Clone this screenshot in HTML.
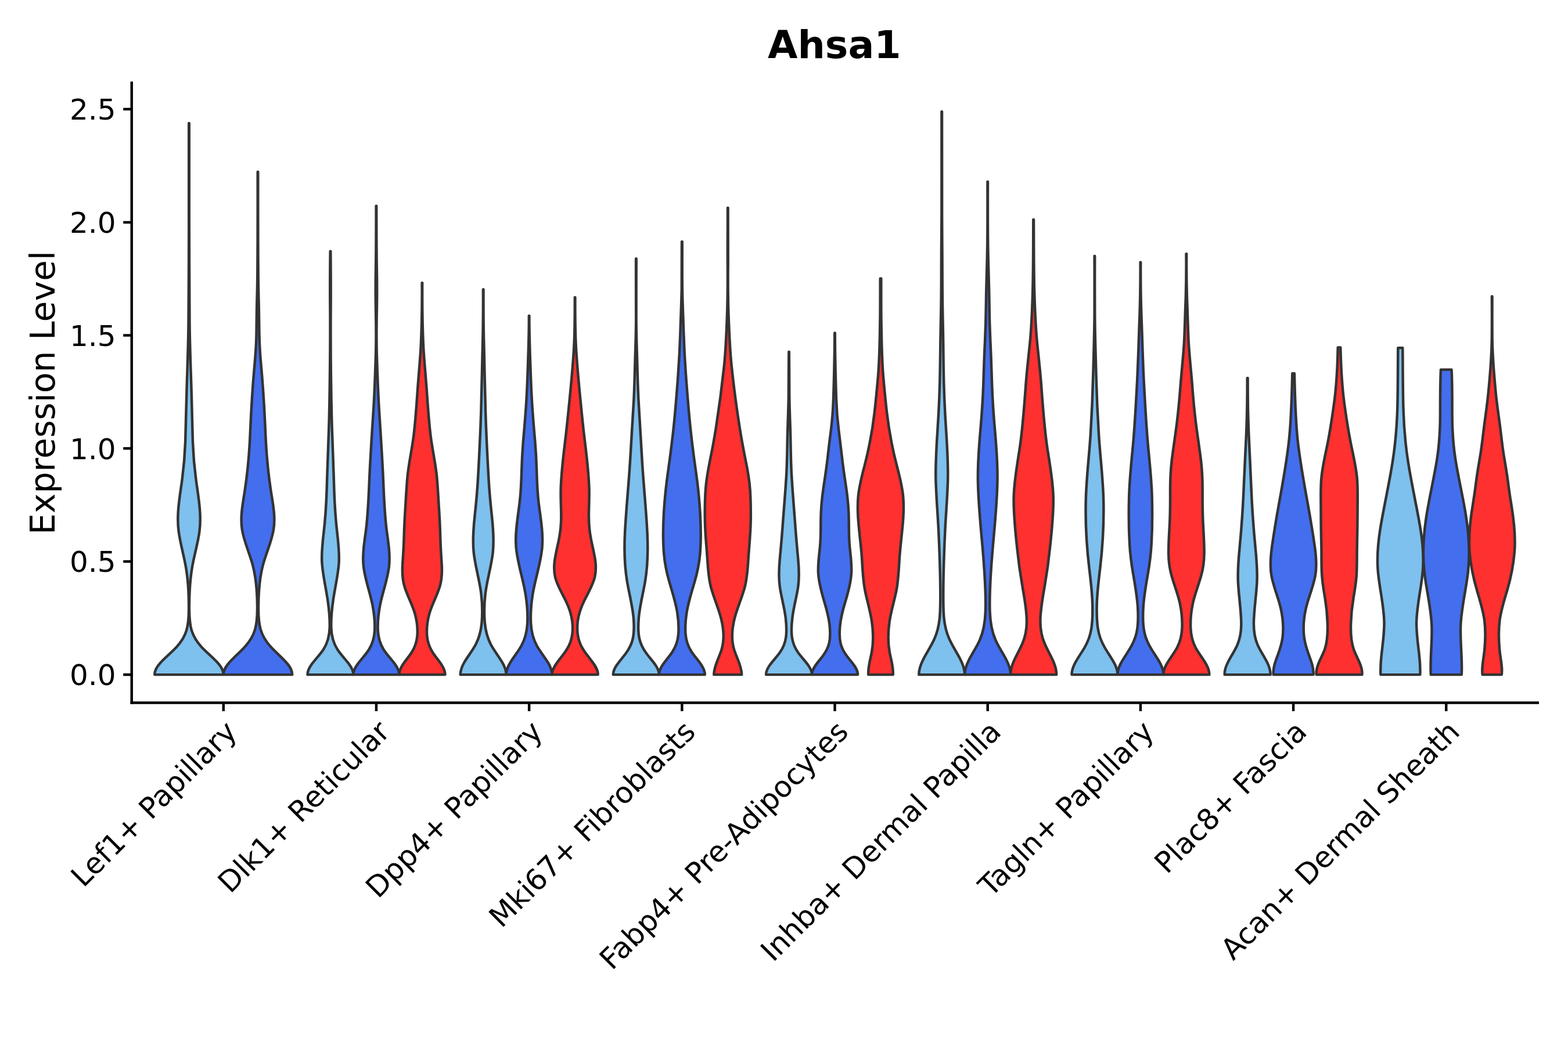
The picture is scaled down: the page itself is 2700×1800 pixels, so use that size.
<!DOCTYPE html>
<html lang="en">
<head>
<meta charset="utf-8">
<title>Ahsa1</title>
<style>
html,body{margin:0;padding:0;background:#fff;}
body{width:2700px;height:1800px;overflow:hidden;}
svg{display:block;}
text{font-family:"DejaVu Sans","Liberation Sans",sans-serif;fill:#000;}
.v{stroke:#333;stroke-width:4.45;stroke-linejoin:round;stroke-linecap:round;}
.ax{stroke:#000;stroke-width:4.45;fill:none;stroke-linecap:butt;}
.tl{font-size:50px;}
</style>
</head>
<body>
<svg xmlns="http://www.w3.org/2000/svg" width="2700" height="1800" viewBox="0 0 2700 1800">
<rect width="2700" height="1800" fill="#fff"/>
<text x="1436.8" y="100" text-anchor="middle" font-weight="bold" font-size="66.5px">Ahsa1</text>
<text transform="translate(94.25 676.5) rotate(-90)" text-anchor="middle" font-size="58.33px">Expression Level</text>
<g class="v">
<path fill="#7EC0EE" d="M325.8 212.2C325.8 252.2 325.8 292.2 325.8 332.2C325.8 372.2 325.7 412.2 326 452.2C326.3 487.5 326.2 522.9 326.5 558.2C326.9 598.2 328.6 638.2 329.8 678.2C330.6 704.9 331 731.5 331.9 758.2C332.6 780.9 334.5 803.5 337.5 826.2C341.5 855.5 347.2 884.9 343.6 914.2C341 935.5 334.2 956.9 330.7 978.2C326.9 1001.5 325.8 1024.9 325.9 1048.2C326 1060.9 326.2 1073.5 330 1086.2C332.9 1095.5 338.3 1104.9 346.8 1114.2C355.4 1123.5 367.2 1132.9 375.4 1142.2C381.3 1148.8 384.9 1155.5 384.7 1162.1L266.3 1162.1C266.1 1155.5 269.8 1148.8 275.7 1142.2C283.9 1132.9 295.7 1123.5 304.2 1114.2C312.8 1104.9 318.2 1095.5 321 1086.2C324.9 1073.5 325.1 1060.9 325.1 1048.2C325.2 1024.9 324.2 1001.5 320.3 978.2C316.8 956.9 310.1 935.5 307.5 914.2C303.8 884.9 309.6 855.5 313.6 826.2C316.6 803.5 318.5 780.9 319.2 758.2C320 731.5 320.5 704.9 321.3 678.2C322.4 638.2 324.1 598.2 324.5 558.2C324.9 522.9 324.8 487.5 325.1 452.2C325.3 412.2 325.2 372.2 325.2 332.2C325.2 292.2 325.2 252.2 325.2 212.2Z"/>
<path fill="#436EEE" d="M444.3 296C444.3 336 444.2 376 444.4 416C444.5 448.7 444.5 481.3 445.4 514C446 534.7 446.1 555.3 446.5 576C446.8 595.3 448.2 614.7 450 634C453.6 672.7 455.6 711.3 457.3 750C458.7 782 461.6 814 466.5 846C470 868 474.6 890 471.1 912C467.9 932.7 458 953.3 452.6 974C446.5 997.3 445.2 1020.7 445 1044C444.8 1057.3 444.9 1070.7 448.7 1084C451.5 1094 457.1 1104 466.1 1114C475.1 1124 487.5 1134 495.5 1144C500.3 1150 503.2 1156.1 503.2 1162.1L384.8 1162.1C384.7 1156.1 387.7 1150 392.5 1144C400.4 1134 412.9 1124 421.8 1114C430.8 1104 436.4 1094 439.2 1084C443 1070.7 443.1 1057.3 443 1044C442.8 1020.7 441.5 997.3 435.3 974C429.9 953.3 420 932.7 416.8 912C413.4 890 418 868 421.4 846C426.4 814 429.2 782 430.6 750C432.3 711.3 434.3 672.7 437.9 634C439.7 614.7 441.2 595.3 441.5 576C441.8 555.3 441.9 534.7 442.5 514C443.5 481.3 443.4 448.7 443.6 416C443.8 376 443.7 336 443.7 296Z"/>
<path fill="#7EC0EE" d="M569.3 432.7C569.6 464 569.8 495.4 569.6 526.7C569.3 566.7 569.4 606.7 569.9 646.7C570.4 681.4 570.7 716 572.2 750.7C573.6 782.7 574.4 814.7 575.5 846.7C576.3 869.4 577.7 892 580.3 914.7C582.4 933.4 584.8 952 583.5 970.7C582 992 576.5 1013.4 573.6 1034.7C571.4 1050 569.9 1065.4 570.3 1080.7C570.7 1093.4 572.8 1106 581.1 1118.7C586.3 1126.7 594 1134.7 600.1 1142.7C605.1 1149.2 608.5 1155.6 608.5 1162.1L529.5 1162.1C529.5 1155.6 532.9 1149.2 537.8 1142.7C543.9 1134.7 551.6 1126.7 556.9 1118.7C565.1 1106 567.3 1093.4 567.7 1080.7C568.1 1065.4 566.6 1050 564.4 1034.7C561.4 1013.4 556 992 554.5 970.7C553.1 952 555.5 933.4 557.7 914.7C560.3 892 561.7 869.4 562.5 846.7C563.6 814.7 564.4 782.7 565.8 750.7C567.2 716 567.6 681.4 568 646.7C568.5 606.7 568.7 566.7 568.4 526.7C568.1 495.4 568.3 464 568.7 432.7Z"/>
<path fill="#436EEE" d="M648.2 354.7C648.3 390 648.2 425.4 648.8 460.7C649.3 486 649.3 511.4 648.8 536.7C648.3 562 648.1 587.4 648.9 612.7C649.9 644.7 650.9 676.7 653 708.7C655.5 748.7 658.3 788.7 660 828.7C661.2 856.7 662.1 884.7 665.7 912.7C668.4 933.4 672.1 954 670 974.7C667.7 997.4 658.7 1020 654.4 1042.7C651.6 1057.4 650 1072 650.8 1086.7C651.4 1097.4 653.8 1108 660.5 1118.7C665.5 1126.7 673.1 1134.7 679.2 1142.7C684 1149.2 687.5 1155.6 687.4 1162.1L608.5 1162.1C608.4 1155.6 611.8 1149.2 616.7 1142.7C622.7 1134.7 630.3 1126.7 635.4 1118.7C642.1 1108 644.5 1097.4 645.1 1086.7C645.9 1072 644.3 1057.4 641.5 1042.7C637.2 1020 628.2 997.4 625.9 974.7C623.8 954 627.5 933.4 630.2 912.7C633.8 884.7 634.7 856.7 635.9 828.7C637.6 788.7 640.3 748.7 642.9 708.7C645 676.7 646 644.7 647 612.7C647.8 587.4 647.6 562 647.1 536.7C646.6 511.4 646.6 486 647.1 460.7C647.7 425.4 647.6 390 647.6 354.7Z"/>
<path fill="#FF3030" d="M727.2 487.2C727 524.5 727.2 561.9 729.2 599.2C730.6 623.9 733.1 648.5 734.9 673.2C736.7 699.2 738.3 725.2 741.6 751.2C744.5 774.5 750 797.9 752.2 821.2C754 839.9 754.8 858.5 756 877.2C757.2 895.2 757.9 913.2 758.4 931.2C758.8 944.5 759.7 957.9 760.6 971.2C761.4 983.9 761.2 996.5 757.6 1009.2C753.1 1025.2 743.8 1041.2 739.3 1057.2C735.8 1069.9 734.3 1082.5 735.3 1095.2C736.1 1104.5 738.8 1113.9 744.7 1123.2C752.2 1135.2 764.8 1147.2 766.2 1159.2C766.3 1160.2 766.4 1161.1 766.4 1162.1L687.4 1162.1C687.4 1161.1 687.4 1160.2 687.6 1159.2C689 1147.2 701.6 1135.2 709.1 1123.2C715 1113.9 717.7 1104.5 718.5 1095.2C719.5 1082.5 718 1069.9 714.5 1057.2C710 1041.2 700.7 1025.2 696.2 1009.2C692.6 996.5 692.4 983.9 693.2 971.2C694 957.9 695 944.5 695.4 931.2C695.9 913.2 696.6 895.2 697.8 877.2C699 858.5 699.8 839.9 701.6 821.2C703.8 797.9 709.3 774.5 712.2 751.2C715.5 725.2 717.1 699.2 718.9 673.2C720.6 648.5 723.2 623.9 724.5 599.2C726.5 561.9 726.8 524.5 726.6 487.2Z"/>
<path fill="#7EC0EE" d="M832.5 498.5C832.4 529.2 832.4 559.8 833.3 590.5C834.4 630.5 834.8 670.5 836.1 710.5C837.3 749.2 839.3 787.8 841.5 826.5C842.7 847.8 844.8 869.2 847.1 890.5C849.3 911.2 850.9 931.8 848.6 952.5C845.9 975.8 838.6 999.2 835.8 1022.5C833.8 1039.2 833.4 1055.8 834.8 1072.5C835.9 1085.2 838.7 1097.8 845.4 1110.5C850.8 1120.5 858.7 1130.5 864.6 1140.5C868.9 1147.7 871.7 1154.9 871.7 1162.1L792.7 1162.1C792.7 1154.9 795.5 1147.7 799.7 1140.5C805.6 1130.5 813.6 1120.5 818.9 1110.5C825.7 1097.8 828.4 1085.2 829.5 1072.5C830.9 1055.8 830.5 1039.2 828.5 1022.5C825.7 999.2 818.4 975.8 815.8 952.5C813.4 931.8 815.1 911.2 817.3 890.5C819.6 869.2 821.7 847.8 822.9 826.5C825.1 787.8 827 749.2 828.3 710.5C829.6 670.5 830 630.5 831.1 590.5C831.9 559.8 832 529.2 831.9 498.5Z"/>
<path fill="#436EEE" d="M911.4 544C911.2 580 912.9 616 914.1 652C915.2 685.3 917.6 718.7 920.6 752C922.4 771.3 923.6 790.7 924.1 810C924.6 828.7 925.3 847.3 927.5 866C930.6 891.3 935.6 916.7 933.6 942C931.5 969.3 921.6 996.7 917.2 1024C914.6 1040.7 913.3 1057.3 914.2 1074C914.9 1086.7 917.4 1099.3 924.3 1112C929.8 1122 938.1 1132 944.1 1142C948 1148.7 950.6 1155.4 950.6 1162.1L871.7 1162.1C871.6 1155.4 874.2 1148.7 878.2 1142C884.1 1132 892.5 1122 897.9 1112C904.9 1099.3 907.4 1086.7 908.1 1074C909 1057.3 907.7 1040.7 905 1024C900.7 996.7 890.8 969.3 888.6 942C886.7 916.7 891.7 891.3 894.7 866C897 847.3 897.7 828.7 898.2 810C898.7 790.7 899.9 771.3 901.6 752C904.6 718.7 907.1 685.3 908.2 652C909.4 616 911.1 580 910.8 544Z"/>
<path fill="#FF3030" d="M990.4 512.2C990.3 541.5 990.3 570.9 992 600.2C993.8 630.9 996.7 661.5 999.8 692.2C1002 714.9 1004.2 737.5 1007.1 760.2C1010.4 786.9 1013.6 813.5 1014.5 840.2C1015 855.5 1014.1 870.9 1013.9 886.2C1013.7 900.2 1014.9 914.2 1017.6 928.2C1021.8 950.2 1029.4 972.2 1024.1 994.2C1021 1007.5 1012.9 1020.9 1006.3 1034.2C1000.3 1046.2 996.3 1058.2 994.8 1070.2C993.4 1082.2 993.7 1094.2 998.1 1106.2C1000.9 1114.2 1006.1 1122.2 1012.4 1130.2C1019.6 1139.5 1027.7 1148.9 1029.3 1158.2C1029.5 1159.5 1029.6 1160.8 1029.6 1162.1L950.6 1162.1C950.6 1160.8 950.7 1159.5 950.9 1158.2C952.5 1148.9 960.5 1139.5 967.8 1130.2C974 1122.2 979.2 1114.2 982.1 1106.2C986.4 1094.2 986.8 1082.2 985.3 1070.2C983.9 1058.2 979.8 1046.2 973.9 1034.2C967.2 1020.9 959.2 1007.5 956 994.2C950.8 972.2 958.3 950.2 962.6 928.2C965.3 914.2 966.5 900.2 966.3 886.2C966.1 870.9 965.1 855.5 965.7 840.2C966.6 813.5 969.8 786.9 973.1 760.2C975.9 737.5 978.1 714.9 980.4 692.2C983.5 661.5 986.4 630.9 988.2 600.2C989.9 570.9 989.8 541.5 989.8 512.2Z"/>
<path fill="#7EC0EE" d="M1095.7 445.5C1095.6 480.2 1095.6 514.8 1095.6 549.5C1095.6 572.8 1096.4 596.2 1097.1 619.5C1097.8 642.8 1098.2 666.2 1099.5 689.5C1101.4 725.5 1103.6 761.5 1105.9 797.5C1108.4 837.5 1112.6 877.5 1114.6 917.5C1116 945.5 1115.6 973.5 1110.9 1001.5C1107.3 1022.8 1101.4 1044.2 1099.8 1065.5C1098.9 1076.8 1098.5 1088.2 1100.9 1099.5C1102.7 1108.2 1106.7 1116.8 1113.1 1125.5C1121.5 1136.8 1133.3 1148.2 1134.7 1159.5C1134.8 1160.4 1134.9 1161.2 1134.8 1162.1L1055.9 1162.1C1055.9 1161.2 1055.9 1160.4 1056 1159.5C1057.4 1148.2 1069.3 1136.8 1077.6 1125.5C1084 1116.8 1088.1 1108.2 1089.8 1099.5C1092.2 1088.2 1091.8 1076.8 1091 1065.5C1089.3 1044.2 1083.4 1022.8 1079.8 1001.5C1075.1 973.5 1074.7 945.5 1076.1 917.5C1078.1 877.5 1082.3 837.5 1084.8 797.5C1087.1 761.5 1089.3 725.5 1091.3 689.5C1092.5 666.2 1092.9 642.8 1093.6 619.5C1094.3 596.2 1095.2 572.8 1095.2 549.5C1095.1 514.8 1095.1 480.2 1095.1 445.5Z"/>
<path fill="#436EEE" d="M1174.7 416.2C1174.9 442.9 1174.5 469.5 1174.9 496.2C1175.2 522.2 1176.5 548.2 1177.3 574.2C1178 598.2 1179.3 622.2 1181.1 646.2C1183.4 677.5 1185.8 708.9 1189.2 740.2C1191.7 763.5 1194.6 786.9 1198 810.2C1201.6 834.9 1204.3 859.5 1205.6 884.2C1206.9 907.5 1207.4 930.9 1205.4 954.2C1204 970.2 1200.8 986.2 1196.1 1002.2C1191.1 1019.5 1185.3 1036.9 1182.6 1054.2C1180.6 1066.9 1179.5 1079.5 1180.5 1092.2C1181.3 1102.2 1184 1112.2 1190.5 1122.2C1198.7 1134.9 1212.7 1147.5 1213.7 1160.2C1213.8 1160.8 1213.8 1161.5 1213.8 1162.1L1134.8 1162.1C1134.8 1161.5 1134.8 1160.8 1134.9 1160.2C1135.9 1147.5 1150 1134.9 1158.2 1122.2C1164.6 1112.2 1167.4 1102.2 1168.1 1092.2C1169.1 1079.5 1168.1 1066.9 1166.1 1054.2C1163.3 1036.9 1157.5 1019.5 1152.5 1002.2C1147.9 986.2 1144.6 970.2 1143.3 954.2C1141.2 930.9 1141.7 907.5 1143 884.2C1144.4 859.5 1147 834.9 1150.6 810.2C1154 786.9 1156.9 763.5 1159.5 740.2C1162.9 708.9 1165.3 677.5 1167.6 646.2C1169.3 622.2 1170.6 598.2 1171.4 574.2C1172.1 548.2 1173.4 522.2 1173.8 496.2C1174.1 469.5 1173.7 442.9 1174 416.2Z"/>
<path fill="#FF3030" d="M1253.6 357.9C1253.4 390.6 1253.9 423.2 1253.7 455.9C1253.4 484.6 1253.5 513.2 1254.5 541.9C1255.6 571.2 1256.6 600.6 1259.7 629.9C1263.5 665.9 1268.1 701.9 1273.9 737.9C1276.9 756.6 1280.3 775.2 1284.1 793.9C1287.6 810.6 1290.5 827.2 1291.6 843.9C1292.8 861.9 1293 879.9 1292.7 897.9C1292.4 916.6 1290.6 935.2 1289.2 953.9C1287.7 973.2 1287.5 992.6 1282.3 1011.9C1277.5 1029.9 1269.2 1047.9 1264.7 1065.9C1260.3 1083.9 1258.7 1101.9 1264.4 1119.9C1268.9 1134 1277.4 1148 1277.2 1162.1L1229.3 1162.1C1229.1 1148 1237.7 1134 1242.2 1119.9C1247.9 1101.9 1246.3 1083.9 1241.8 1065.9C1237.4 1047.9 1229.1 1029.9 1224.3 1011.9C1219.1 992.6 1218.9 973.2 1217.4 953.9C1216 935.2 1214.1 916.6 1213.9 897.9C1213.6 879.9 1213.7 861.9 1214.9 843.9C1216.1 827.2 1219 810.6 1222.4 793.9C1226.3 775.2 1229.7 756.6 1232.7 737.9C1238.4 701.9 1243.1 665.9 1246.9 629.9C1250 600.6 1251 571.2 1252 541.9C1253 513.2 1253.1 484.6 1252.9 455.9C1252.6 423.2 1253.2 390.6 1253 357.9Z"/>
<path fill="#7EC0EE" d="M1358.8 606C1358.9 628.7 1359.2 651.3 1359.2 674C1359.2 694 1360 714 1360.7 734C1361.7 762.7 1361.4 791.3 1363.2 820C1365 850.7 1367.7 881.3 1369.9 912C1371.2 929.3 1372.8 946.7 1374.4 964C1375.8 979.3 1376.5 994.7 1374.4 1010C1371.9 1028 1366.5 1046 1364.4 1064C1363 1075.3 1362.2 1086.7 1363.8 1098C1365 1106.7 1368.2 1115.3 1374.3 1124C1382.8 1136 1396.7 1148 1397.9 1160C1398 1160.7 1398 1161.4 1398 1162.1L1319.1 1162.1C1319.1 1161.4 1319.1 1160.7 1319.2 1160C1320.4 1148 1334.3 1136 1342.8 1124C1348.9 1115.3 1352.1 1106.7 1353.3 1098C1354.9 1086.7 1354.1 1075.3 1352.8 1064C1350.6 1046 1345.2 1028 1342.7 1010C1340.6 994.7 1341.3 979.3 1342.7 964C1344.3 946.7 1345.9 929.3 1347.2 912C1349.4 881.3 1352.1 850.7 1354 820C1355.7 791.3 1355.4 762.7 1356.4 734C1357.1 714 1357.9 694 1357.9 674C1357.9 651.3 1358.2 628.7 1358.3 606Z"/>
<path fill="#436EEE" d="M1437.8 573.5C1437.8 611.5 1438.8 649.5 1440 687.5C1440.6 705.5 1442 723.5 1444.3 741.5C1446.3 757.5 1448.3 773.5 1450.1 789.5C1451.9 806.2 1454.5 822.8 1457 839.5C1459.9 858.8 1461.6 878.2 1461.7 897.5C1461.8 912.2 1461.6 926.8 1463.1 941.5C1464.6 956.8 1467 972.2 1466 987.5C1465 1004.2 1460.4 1020.8 1455.3 1037.5C1451.3 1050.8 1447.8 1064.2 1446.5 1077.5C1445.5 1087.5 1445 1097.5 1447.3 1107.5C1448.9 1114.8 1452.5 1122.2 1457.9 1129.5C1465.3 1139.5 1475.7 1149.5 1476.9 1159.5C1477 1160.4 1477 1161.2 1477 1162.1L1398 1162.1C1398 1161.2 1398.1 1160.4 1398.2 1159.5C1399.4 1149.5 1409.7 1139.5 1417.1 1129.5C1422.5 1122.2 1426.1 1114.8 1427.8 1107.5C1430 1097.5 1429.6 1087.5 1428.6 1077.5C1427.3 1064.2 1423.7 1050.8 1419.7 1037.5C1414.7 1020.8 1410 1004.2 1409 987.5C1408 972.2 1410.5 956.8 1412 941.5C1413.4 926.8 1413.2 912.2 1413.3 897.5C1413.4 878.2 1415.1 858.8 1418 839.5C1420.5 822.8 1423.1 806.2 1425 789.5C1426.7 773.5 1428.7 757.5 1430.8 741.5C1433.1 723.5 1434.4 705.5 1435 687.5C1436.2 649.5 1437.2 611.5 1437.2 573.5Z"/>
<path fill="#FF3030" d="M1517.3 479.7C1517.4 506.4 1517.1 533 1517.6 559.7C1518.2 589 1518.4 618.4 1520.9 647.7C1522.7 668.4 1524.6 689 1527 709.7C1530.6 740.4 1536.1 771 1544.2 801.7C1548.9 819.7 1553.7 837.7 1555.2 855.7C1558.2 890.4 1551.3 925 1549 959.7C1547.6 979 1547.3 998.4 1543.4 1017.7C1539.9 1035 1534.4 1052.4 1531.8 1069.7C1529.1 1087.7 1528.5 1105.7 1531.9 1123.7C1534.4 1136.5 1538.6 1149.3 1537.7 1162.1L1495.2 1162.1C1494.4 1149.3 1498.5 1136.5 1501 1123.7C1504.4 1105.7 1503.8 1087.7 1501.1 1069.7C1498.5 1052.4 1493.1 1035 1489.6 1017.7C1485.7 998.4 1485.3 979 1484 959.7C1481.6 925 1474.7 890.4 1477.7 855.7C1479.3 837.7 1484 819.7 1488.8 801.7C1496.8 771 1502.4 740.4 1505.9 709.7C1508.3 689 1510.2 668.4 1512 647.7C1514.5 618.4 1514.8 589 1515.3 559.7C1515.8 533 1515.6 506.4 1515.7 479.7Z"/>
<path fill="#7EC0EE" d="M1622 192.2C1622.1 232.2 1622.1 272.2 1622.1 312.2C1622 349.5 1622.1 386.9 1622.4 424.2C1622.8 463.5 1622.4 502.9 1623.3 542.2C1624 571.5 1624.4 600.9 1624.7 630.2C1625.1 667.5 1626.7 704.9 1629.2 742.2C1631.1 770.9 1632.9 799.5 1632.1 828.2C1631.3 856.2 1628.9 884.2 1627.5 912.2C1625.6 952.2 1624.1 992.2 1624.3 1032.2C1624.4 1054.9 1624.5 1077.5 1634.4 1100.2C1639.7 1112.2 1647.8 1124.2 1653.9 1136.2C1658.3 1144.8 1661.3 1153.5 1661.2 1162.1L1582.3 1162.1C1582.2 1153.5 1585.2 1144.8 1589.6 1136.2C1595.7 1124.2 1603.8 1112.2 1609.1 1100.2C1619 1077.5 1619.1 1054.9 1619.2 1032.2C1619.4 992.2 1617.9 952.2 1616 912.2C1614.6 884.2 1612.2 856.2 1611.4 828.2C1610.6 799.5 1612.4 770.9 1614.3 742.2C1616.8 704.9 1618.4 667.5 1618.8 630.2C1619.1 600.9 1619.5 571.5 1620.2 542.2C1621.1 502.9 1620.7 463.5 1621 424.2C1621.4 386.9 1621.5 349.5 1621.4 312.2C1621.4 272.2 1621.4 232.2 1621.4 192.2Z"/>
<path fill="#436EEE" d="M1701 312.9C1700.9 347.6 1700.8 382.2 1701.2 416.9C1701.5 451.6 1703.1 486.2 1703.5 520.9C1703.7 543.6 1704.3 566.2 1705.4 588.9C1706.6 612.9 1707.3 636.9 1708.1 660.9C1709 688.9 1711 716.9 1713.5 744.9C1715.9 772.2 1717.9 799.6 1717.5 826.9C1717 866.9 1712.6 906.9 1709.2 946.9C1706.2 982.2 1703.3 1017.6 1704.5 1052.9C1705 1069.6 1707 1086.2 1714.5 1102.9C1719.8 1114.9 1728.2 1126.9 1734 1138.9C1737.8 1146.6 1740.2 1154.4 1740.2 1162.1L1661.2 1162.1C1661.2 1154.4 1663.6 1146.6 1667.4 1138.9C1673.2 1126.9 1681.6 1114.9 1686.9 1102.9C1694.4 1086.2 1696.4 1069.6 1696.9 1052.9C1698.1 1017.6 1695.2 982.2 1692.2 946.9C1688.8 906.9 1684.4 866.9 1683.9 826.9C1683.5 799.6 1685.5 772.2 1687.9 744.9C1690.4 716.9 1692.4 688.9 1693.3 660.9C1694.1 636.9 1694.8 612.9 1696 588.9C1697.1 566.2 1697.7 543.6 1697.9 520.9C1698.3 486.2 1699.9 451.6 1700.2 416.9C1700.6 382.2 1700.5 347.6 1700.4 312.9Z"/>
<path fill="#FF3030" d="M1780 378.2C1780.3 418.2 1780 458.2 1781 498.2C1781.9 530.2 1782.9 562.2 1786.3 594.2C1788.6 616.9 1791.2 639.5 1792.9 662.2C1795.6 697.5 1797.8 732.9 1802.9 768.2C1807.1 796.9 1812.8 825.5 1813.7 854.2C1814.6 884.2 1811.1 914.2 1807.9 944.2C1805.7 965.5 1802.8 986.9 1799.1 1008.2C1795.7 1028.2 1791.7 1048.2 1791.4 1068.2C1791.1 1081.5 1793.2 1094.9 1798.7 1108.2C1805.9 1125.5 1818.7 1142.9 1819.1 1160.2C1819.1 1160.8 1819.1 1161.5 1819.1 1162.1L1740.2 1162.1C1740.2 1161.5 1740.2 1160.8 1740.2 1160.2C1740.6 1142.9 1753.4 1125.5 1760.6 1108.2C1766.2 1094.9 1768.2 1081.5 1767.9 1068.2C1767.6 1048.2 1763.6 1028.2 1760.2 1008.2C1756.5 986.9 1753.6 965.5 1751.4 944.2C1748.2 914.2 1744.7 884.2 1745.7 854.2C1746.5 825.5 1752.2 796.9 1756.4 768.2C1761.5 732.9 1763.8 697.5 1766.4 662.2C1768.1 639.5 1770.7 616.9 1773.1 594.2C1776.4 562.2 1777.5 530.2 1778.3 498.2C1779.3 458.2 1779.1 418.2 1779.3 378.2Z"/>
<path fill="#7EC0EE" d="M1885.2 441C1885.2 475.7 1885 510.3 1885.3 545C1885.5 578.3 1886.7 611.7 1887.5 645C1888.4 679.7 1889.9 714.3 1892.1 749C1894.4 785.7 1899.1 822.3 1900.1 859C1901.2 899 1899 939 1894.3 979C1891.8 999.7 1889.2 1020.3 1888.7 1041C1888.4 1055 1888.4 1069 1890.6 1083C1892.3 1093.7 1896 1104.3 1902.1 1115C1910.4 1129.7 1922.9 1144.3 1924.3 1159C1924.4 1160 1924.4 1161.1 1924.4 1162.1L1845.5 1162.1C1845.4 1161.1 1845.5 1160 1845.6 1159C1846.9 1144.3 1859.4 1129.7 1867.8 1115C1873.9 1104.3 1877.5 1093.7 1879.2 1083C1881.5 1069 1881.5 1055 1881.1 1041C1880.7 1020.3 1878.1 999.7 1875.6 979C1870.8 939 1868.6 899 1869.8 859C1870.8 822.3 1875.4 785.7 1877.8 749C1880 714.3 1881.5 679.7 1882.3 645C1883.2 611.7 1884.3 578.3 1884.6 545C1884.9 510.3 1884.6 475.7 1884.6 441Z"/>
<path fill="#436EEE" d="M1964.2 451.7C1964 483 1964.3 514.4 1965.5 545.7C1967 584.4 1967.8 623 1969.9 661.7C1972 699.7 1973.9 737.7 1977.6 775.7C1980.2 801.7 1982.8 827.7 1983.6 853.7C1984.4 881 1984.3 908.4 1982.8 935.7C1981.8 953.7 1979.6 971.7 1976.4 989.7C1973.1 1008.4 1969.8 1027 1968.7 1045.7C1967.8 1060.4 1967.4 1075 1970.7 1089.7C1972.9 1099.7 1977.4 1109.7 1983.6 1119.7C1991.5 1132.4 2001.4 1145 2003.1 1157.7C2003.3 1159.2 2003.4 1160.6 2003.4 1162.1L1924.4 1162.1C1924.4 1160.6 1924.5 1159.2 1924.7 1157.7C1926.4 1145 1936.3 1132.4 1944.1 1119.7C1950.4 1109.7 1954.9 1099.7 1957.1 1089.7C1960.4 1075 1960 1060.4 1959.1 1045.7C1957.9 1027 1954.7 1008.4 1951.4 989.7C1948.2 971.7 1945.9 953.7 1945 935.7C1943.5 908.4 1943.4 881 1944.2 853.7C1945 827.7 1947.5 801.7 1950.1 775.7C1953.9 737.7 1955.8 699.7 1957.8 661.7C1959.9 623 1960.8 584.4 1962.3 545.7C1963.4 514.4 1963.8 483 1963.6 451.7Z"/>
<path fill="#FF3030" d="M2043.2 437.2C2042.9 465.9 2043.2 494.5 2044.3 523.2C2045.2 545.2 2045.6 567.2 2046.7 589.2C2048.1 613.9 2051 638.5 2052.9 663.2C2054.5 685.2 2056.5 707.2 2059.3 729.2C2062 750.5 2065.4 771.9 2068 793.2C2070 809.9 2070.7 826.5 2070.7 843.2C2070.6 861.9 2070.6 880.5 2071.5 899.2C2072.3 917.2 2073.8 935.2 2073.6 953.2C2073.5 966.5 2071.8 979.9 2067.9 993.2C2063.5 1008.5 2057.3 1023.9 2054 1039.2C2051 1053.2 2049.7 1067.2 2050.2 1081.2C2050.6 1092.5 2052.7 1103.9 2058.6 1115.2C2063.9 1125.2 2072.3 1135.2 2077.6 1145.2C2080.6 1150.8 2082.4 1156.5 2082.3 1162.1L2003.4 1162.1C2003.3 1156.5 2005.1 1150.8 2008.1 1145.2C2013.4 1135.2 2021.8 1125.2 2027 1115.2C2033 1103.9 2035.1 1092.5 2035.5 1081.2C2036 1067.2 2034.7 1053.2 2031.7 1039.2C2028.4 1023.9 2022.2 1008.5 2017.8 993.2C2013.9 979.9 2012.2 966.5 2012.1 953.2C2011.9 935.2 2013.4 917.2 2014.2 899.2C2015.1 880.5 2015.1 861.9 2015 843.2C2015 826.5 2015.7 809.9 2017.7 793.2C2020.3 771.9 2023.7 750.5 2026.4 729.2C2029.2 707.2 2031.1 685.2 2032.8 663.2C2034.7 638.5 2037.6 613.9 2039 589.2C2040.1 567.2 2040.5 545.2 2041.4 523.2C2042.5 494.5 2042.8 465.9 2042.5 437.2Z"/>
<path fill="#7EC0EE" d="M2148.6 651.1C2148.5 682.4 2148.9 713.8 2150.2 745.1C2151.5 776.4 2153.3 807.8 2154.5 839.1C2155.9 874.4 2158.4 909.8 2161.9 945.1C2163.8 964.4 2165.3 983.8 2164.4 1003.1C2163.2 1026.4 2159.3 1049.8 2158.9 1073.1C2158.8 1085.8 2160.2 1098.4 2165.7 1111.1C2170.4 1121.8 2178 1132.4 2183 1143.1C2185.9 1149.4 2187.7 1155.8 2187.6 1162.1L2108.7 1162.1C2108.5 1155.8 2110.3 1149.4 2113.3 1143.1C2118.3 1132.4 2125.9 1121.8 2130.5 1111.1C2136 1098.4 2137.5 1085.8 2137.3 1073.1C2137 1049.8 2133 1026.4 2131.9 1003.1C2130.9 983.8 2132.5 964.4 2134.4 945.1C2137.8 909.8 2140.3 874.4 2141.7 839.1C2143 807.8 2144.7 776.4 2146.1 745.1C2147.4 713.8 2147.8 682.4 2147.7 651.1Z"/>
<path fill="#436EEE" d="M2228.9 643.2C2229.9 681.2 2230.4 719.2 2234.4 757.2C2238.3 793.9 2245.1 830.5 2251.8 867.2C2256.2 891.9 2260.3 916.5 2263.9 941.2C2266.3 957.9 2267.8 974.5 2264.9 991.2C2261.5 1010.5 2252.7 1029.9 2248.4 1049.2C2244.9 1065.2 2243.6 1081.2 2245.6 1097.2C2246.9 1107.9 2250.3 1118.5 2254.2 1129.2C2258.3 1140.2 2262.3 1151.1 2261.5 1162.1L2192.7 1162.1C2191.8 1151.1 2195.8 1140.2 2199.9 1129.2C2203.9 1118.5 2207.3 1107.9 2208.6 1097.2C2210.5 1081.2 2209.2 1065.2 2205.7 1049.2C2201.5 1029.9 2192.6 1010.5 2189.3 991.2C2186.4 974.5 2187.9 957.9 2190.3 941.2C2193.8 916.5 2197.9 891.9 2202.4 867.2C2209.1 830.5 2215.9 793.9 2219.7 757.2C2223.8 719.2 2224.3 681.2 2225.3 643.2Z"/>
<path fill="#FF3030" d="M2308.3 598.5C2309 630.5 2310.5 662.5 2314.8 694.5C2317.8 716.5 2321.1 738.5 2325.4 760.5C2329.7 782.5 2335.4 804.5 2337 826.5C2338.3 845.2 2337.6 863.8 2337.6 882.5C2337.5 901.2 2337.2 919.8 2336.8 938.5C2336.4 955.2 2336.8 971.8 2336 988.5C2335.3 1002.5 2332.9 1016.5 2330.5 1030.5C2328 1045.2 2326.6 1059.8 2326.1 1074.5C2325.7 1089.2 2325.8 1103.8 2331 1118.5C2334.8 1129.2 2341.5 1139.8 2344.3 1150.5C2345.3 1154.4 2345.7 1158.2 2345.4 1162.1L2266.7 1162.1C2266.3 1158.2 2266.8 1154.4 2267.8 1150.5C2270.5 1139.8 2277.3 1129.2 2281.1 1118.5C2286.3 1103.8 2286.3 1089.2 2285.9 1074.5C2285.5 1059.8 2284.1 1045.2 2281.6 1030.5C2279.2 1016.5 2276.8 1002.5 2276.1 988.5C2275.2 971.8 2275.7 955.2 2275.3 938.5C2274.8 919.8 2274.5 901.2 2274.5 882.5C2274.5 863.8 2273.7 845.2 2275.1 826.5C2276.7 804.5 2282.4 782.5 2286.7 760.5C2290.9 738.5 2294.2 716.5 2297.2 694.5C2301.6 662.5 2303.1 630.5 2303.7 598.5Z"/>
<path fill="#7EC0EE" d="M2415.3 599.2C2415.6 633.2 2415.5 667.2 2416.4 701.2C2417.2 732.5 2419.7 763.9 2424.6 795.2C2430.4 832.5 2439 869.9 2445.3 907.2C2449.5 931.9 2451.9 956.5 2450.1 981.2C2447.9 1011.9 2439.4 1042.5 2439.1 1073.2C2438.9 1091.9 2441.9 1110.5 2443.9 1129.2C2445.1 1140.2 2445.8 1151.1 2445.3 1162.1L2377.4 1162.1C2376.8 1151.1 2377.5 1140.2 2378.7 1129.2C2380.7 1110.5 2383.7 1091.9 2383.5 1073.2C2383.3 1042.5 2374.7 1011.9 2372.5 981.2C2370.7 956.5 2373.2 931.9 2377.3 907.2C2383.6 869.9 2392.2 832.5 2398 795.2C2402.9 763.9 2405.4 732.5 2406.3 701.2C2407.1 667.2 2407 633.2 2407.3 599.2Z"/>
<path fill="#436EEE" d="M2499.5 636.7C2500.9 662.7 2500.5 688.7 2500.6 714.7C2500.7 739.4 2502 764 2505.8 788.7C2511.1 824 2520.2 859.4 2525.2 894.7C2529.6 924.7 2531.2 954.7 2527.9 984.7C2524.6 1015.4 2516.6 1046 2515.2 1076.7C2514 1105.2 2518.3 1133.6 2516.8 1162.1L2463.8 1162.1C2462.2 1133.6 2466.6 1105.2 2465.3 1076.7C2463.9 1046 2455.9 1015.4 2452.6 984.7C2449.3 954.7 2451 924.7 2455.3 894.7C2460.4 859.4 2469.4 824 2474.8 788.7C2478.5 764 2479.8 739.4 2479.9 714.7C2480 688.7 2479.7 662.7 2481 636.7Z"/>
<path fill="#FF3030" d="M2569.5 510.5C2569.5 534.5 2569.4 558.5 2569.6 582.5C2570 615.2 2572.8 647.8 2576 680.5C2578 699.8 2581.1 719.2 2583.5 738.5C2585.5 754.5 2587.1 770.5 2589.8 786.5C2592.1 799.8 2594.5 813.2 2596.2 826.5C2598 840.5 2599.9 854.5 2602.3 868.5C2606.8 895.8 2610.2 923.2 2607.9 950.5C2606 973.2 2601.6 995.8 2594.8 1018.5C2589.8 1035.2 2584.5 1051.8 2582.4 1068.5C2580.2 1085.2 2580.6 1101.8 2582.1 1118.5C2583 1128.5 2585 1138.5 2585.9 1148.5C2586.3 1153 2586.3 1157.6 2585.8 1162.1L2552.7 1162.1C2552.1 1157.6 2552.2 1153 2552.6 1148.5C2553.4 1138.5 2555.4 1128.5 2556.3 1118.5C2557.8 1101.8 2558.2 1085.2 2556.1 1068.5C2553.9 1051.8 2548.6 1035.2 2543.7 1018.5C2536.9 995.8 2532.4 973.2 2530.5 950.5C2528.3 923.2 2531.6 895.8 2536.2 868.5C2538.5 854.5 2540.5 840.5 2542.2 826.5C2543.9 813.2 2546.3 799.8 2548.6 786.5C2551.4 770.5 2552.9 754.5 2555 738.5C2557.4 719.2 2560.5 699.8 2562.4 680.5C2565.7 647.8 2568.5 615.2 2568.8 582.5C2569.1 558.5 2569 534.5 2568.9 510.5Z"/>
</g>
<g class="ax">
<path d="M226.75 140.5 V1212.6"/>
<path d="M224.5 1210.4 H2650"/>
<path d="M212.2 188.0 H226.75"/>
<path d="M212.2 383.0 H226.75"/>
<path d="M212.2 577.6 H226.75"/>
<path d="M212.2 772.4 H226.75"/>
<path d="M212.2 967.2 H226.75"/>
<path d="M212.2 1162.1 H226.75"/>
<path d="M384.75 1210.4 V1225"/>
<path d="M647.94 1210.4 V1225"/>
<path d="M911.13 1210.4 V1225"/>
<path d="M1174.32 1210.4 V1225"/>
<path d="M1437.51 1210.4 V1225"/>
<path d="M1700.70 1210.4 V1225"/>
<path d="M1963.89 1210.4 V1225"/>
<path d="M2227.08 1210.4 V1225"/>
<path d="M2490.27 1210.4 V1225"/>
</g>
<g class="tl" text-anchor="end">
<text x="199.5" y="206.2">2.5</text>
<text x="199.5" y="401.2">2.0</text>
<text x="199.5" y="595.8">1.5</text>
<text x="199.5" y="790.6">1.0</text>
<text x="199.5" y="985.4">0.5</text>
<text x="199.5" y="1180.3">0.0</text>
</g>
<g class="tl" text-anchor="end">
<text transform="translate(384.75 1237.5) rotate(-45)" x="0" y="36.5">Lef1+ Papillary</text>
<text transform="translate(647.94 1237.5) rotate(-45)" x="0" y="36.5">Dlk1+ Reticular</text>
<text transform="translate(911.13 1237.5) rotate(-45)" x="0" y="36.5">Dpp4+ Papillary</text>
<text transform="translate(1174.32 1237.5) rotate(-45)" x="0" y="36.5">Mki67+ Fibroblasts</text>
<text transform="translate(1437.51 1237.5) rotate(-45)" x="0" y="36.5">Fabp4+ Pre-Adipocytes</text>
<text transform="translate(1700.70 1237.5) rotate(-45)" x="0" y="36.5">Inhba+ Dermal Papilla</text>
<text transform="translate(1963.89 1237.5) rotate(-45)" x="0" y="36.5">Tagln+ Papillary</text>
<text transform="translate(2227.08 1237.5) rotate(-45)" x="0" y="36.5">Plac8+ Fascia</text>
<text transform="translate(2490.27 1237.5) rotate(-45)" x="0" y="36.5">Acan+ Dermal Sheath</text>
</g>
</svg>
</body>
</html>
